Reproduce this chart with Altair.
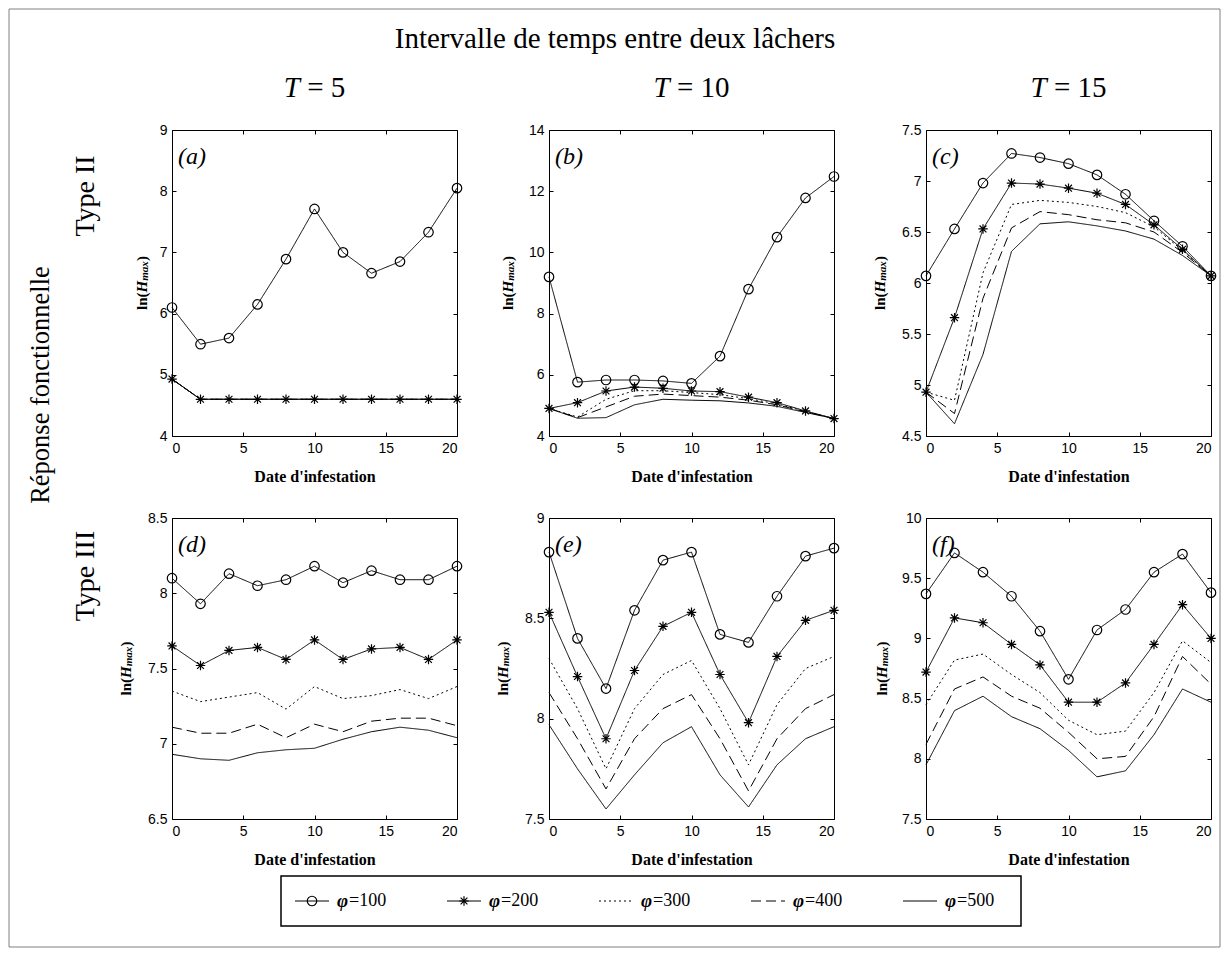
import altair as alt
import pandas as pd

# ---------------- data ----------------
DATES = [0, 2, 4, 6, 8, 10, 12, 14, 16, 18, 20]
PHI = ["100", "200", "300", "400", "500"]
PHI_LABELS = ["=100", "=200", "=300", "=400", "=500"]
X_TICKS = [0, 5, 10, 15, 20]

# (a) Type II, T = 5
A100 = [6.10, 5.50, 5.60, 6.15, 6.89, 7.71, 7.00, 6.66, 6.85, 7.33, 8.05]
A200 = [4.93, 4.60, 4.60, 4.60, 4.60, 4.60, 4.60, 4.60, 4.60, 4.60, 4.60]
A300 = [4.93, 4.60, 4.60, 4.60, 4.60, 4.60, 4.60, 4.60, 4.60, 4.60, 4.60]
A400 = [4.93, 4.60, 4.60, 4.60, 4.60, 4.60, 4.60, 4.60, 4.60, 4.60, 4.60]
A500 = [4.93, 4.60, 4.60, 4.60, 4.60, 4.60, 4.60, 4.60, 4.60, 4.60, 4.60]
# (b) Type II, T = 10
B100 = [9.20, 5.76, 5.83, 5.83, 5.80, 5.72, 6.61, 8.80, 10.50, 11.78, 12.48]
B200 = [4.90, 5.09, 5.47, 5.60, 5.56, 5.47, 5.45, 5.27, 5.09, 4.82, 4.57]
B300 = [4.90, 4.62, 5.20, 5.48, 5.48, 5.42, 5.35, 5.22, 5.05, 4.80, 4.57]
B400 = [4.90, 4.60, 4.95, 5.30, 5.37, 5.32, 5.27, 5.17, 5.02, 4.79, 4.57]
B500 = [4.90, 4.58, 4.60, 5.02, 5.20, 5.17, 5.15, 5.08, 4.97, 4.77, 4.57]
# (c) Type II, T = 15
C100 = [6.07, 6.53, 6.98, 7.27, 7.23, 7.17, 7.06, 6.87, 6.61, 6.36, 6.07]
C200 = [4.93, 5.66, 6.53, 6.98, 6.97, 6.93, 6.88, 6.77, 6.57, 6.33, 6.07]
C300 = [4.93, 4.85, 6.10, 6.77, 6.81, 6.79, 6.75, 6.69, 6.55, 6.32, 6.07]
C400 = [4.93, 4.72, 5.85, 6.54, 6.70, 6.67, 6.62, 6.59, 6.50, 6.30, 6.07]
C500 = [4.93, 4.62, 5.30, 6.31, 6.58, 6.60, 6.56, 6.51, 6.43, 6.27, 6.07]
# (d) Type III, T = 5
D100 = [8.10, 7.93, 8.13, 8.05, 8.09, 8.18, 8.07, 8.15, 8.09, 8.09, 8.18]
D200 = [7.65, 7.52, 7.62, 7.64, 7.56, 7.69, 7.56, 7.63, 7.64, 7.56, 7.69]
D300 = [7.35, 7.28, 7.31, 7.34, 7.23, 7.38, 7.30, 7.32, 7.36, 7.30, 7.38]
D400 = [7.11, 7.07, 7.07, 7.13, 7.04, 7.13, 7.08, 7.15, 7.17, 7.17, 7.12]
D500 = [6.93, 6.90, 6.89, 6.94, 6.96, 6.97, 7.03, 7.08, 7.11, 7.09, 7.04]
# (e) Type III, T = 10
E100 = [8.83, 8.40, 8.15, 8.54, 8.79, 8.83, 8.42, 8.38, 8.61, 8.81, 8.85]
E200 = [8.53, 8.21, 7.90, 8.24, 8.46, 8.53, 8.22, 7.98, 8.31, 8.49, 8.54]
E300 = [8.30, 8.05, 7.75, 8.05, 8.22, 8.29, 8.05, 7.77, 8.07, 8.25, 8.31]
E400 = [8.13, 7.90, 7.65, 7.90, 8.05, 8.12, 7.90, 7.64, 7.90, 8.05, 8.12]
E500 = [7.97, 7.75, 7.55, 7.72, 7.88, 7.96, 7.72, 7.56, 7.77, 7.90, 7.96]
# (f) Type III, T = 15
F100 = [9.37, 9.71, 9.55, 9.35, 9.06, 8.66, 9.07, 9.24, 9.55, 9.70, 9.38]
F200 = [8.72, 9.17, 9.13, 8.95, 8.78, 8.47, 8.47, 8.63, 8.95, 9.28, 9.00]
F300 = [8.45, 8.82, 8.87, 8.70, 8.55, 8.32, 8.20, 8.23, 8.55, 8.98, 8.80]
F400 = [8.12, 8.58, 8.68, 8.52, 8.42, 8.22, 8.00, 8.02, 8.35, 8.85, 8.62]
F500 = [7.95, 8.40, 8.52, 8.35, 8.25, 8.07, 7.85, 7.90, 8.20, 8.58, 8.47]

Y_DOMAINS = {
    "a": [4, 9], "b": [4, 14], "c": [4.5, 7.5],
    "d": [6.5, 8.5], "e": [7.5, 9], "f": [7.5, 10],
}
Y_TICKS = {
    "a": [4, 5, 6, 7, 8, 9],
    "b": [4, 6, 8, 10, 12, 14],
    "c": [4.5, 5, 5.5, 6, 6.5, 7, 7.5],
    "d": [6.5, 7, 7.5, 8, 8.5],
    "e": [7.5, 8, 8.5, 9],
    "f": [7.5, 8, 8.5, 9, 9.5, 10],
}
SERIES = {
    "a": [A100, A200, A300, A400, A500],
    "b": [B100, B200, B300, B400, B500],
    "c": [C100, C200, C300, C400, C500],
    "d": [D100, D200, D300, D400, D500],
    "e": [E100, E200, E300, E400, E500],
    "f": [F100, F200, F300, F400, F500],
}
COL_T = ["5", "10", "15"]

# ---------------- style ----------------
SERIF = "Liberation Serif"
SANS = "Liberation Sans"
STAR = "M-1,0L1,0M0,-1L0,1M-0.72,-0.72L0.72,0.72M-0.72,0.72L0.72,-0.72"
DASHES = [[1, 0], [1, 0], [2, 3], [10, 5], [1, 0]]
W = 285
H_TOP = 306
H_BOT = 301
YT_X = {"a": -30, "b": -41, "c": -46, "d": -46, "e": -46, "f": -44}
HEAD = 29


def txt(s, x, y, size, style="normal", weight="normal", align="center",
        baseline="middle", angle=0, font=SERIF, color="black"):
    return alt.Chart(pd.DataFrame({"t": [s]})).mark_text(
        font=font, fontSize=size, fontStyle=style, fontWeight=weight,
        align=align, baseline=baseline, angle=angle, color=color,
    ).encode(x=alt.value(x), y=alt.value(y), text="t:N")


def ytitle(xoff, h):
    c = h / 2
    w1, w2, w3, w4 = 17.5, 11.7, 19.6, 5.0
    start = c + (w1 + w2 + w3 + w4) / 2
    return [
        txt("ln(", xoff, start, 15, weight="bold", align="left", angle=270),
        txt("H", xoff, start - w1, 15, style="italic", weight="bold", align="left", angle=270),
        txt("max", xoff + 3, start - w1 - w2, 11, style="italic", weight="bold", align="left", angle=270),
        txt(")", xoff, start - w1 - w2 - w3, 15, weight="bold", align="left", angle=270),
    ]


def panel(key, h, extras):
    rows = []
    for phi, vals in zip(PHI, SERIES[key]):
        for d, v in zip(DATES, vals):
            rows.append({"date": d, "value": v, "phi": phi})
    df = pd.DataFrame(rows)
    xs = alt.Scale(domain=[0, 20], nice=False)
    ys = alt.Scale(domain=Y_DOMAINS[key], nice=False, zero=False)
    base = alt.Chart(df)
    lines = base.mark_line(color="black", strokeWidth=1).encode(
        x=alt.X("date:Q", scale=xs, axis=alt.Axis(
            orient="bottom", values=X_TICKS, ticks=False, domain=False,
            labelPadding=5, title="Date d'infestation", titlePadding=13)),
        y=alt.Y("value:Q", scale=ys, axis=alt.Axis(
            orient="left", values=Y_TICKS[key], format="~g", ticks=False,
            domain=False, labelPadding=5, title=None)),
        strokeDash=alt.StrokeDash("phi:N", scale=alt.Scale(domain=PHI, range=DASHES), legend=None),
    )
    marks = base.transform_filter(
        alt.FieldOneOfPredicate(field="phi", oneOf=["100", "200"])
    ).mark_point(color="black", filled=False, strokeWidth=1.2, opacity=1, size=90).encode(
        x=alt.X("date:Q", scale=xs, axis=alt.Axis(
            orient="bottom", offset=-4, values=X_TICKS, labels=False,
            domain=False, tickSize=4, title=None)),
        y=alt.Y("value:Q", scale=ys, axis=alt.Axis(
            orient="left", offset=-4, values=Y_TICKS[key], labels=False,
            domain=False, tickSize=4, title=None)),
        shape=alt.Shape("phi:N", scale=alt.Scale(domain=["100", "200"], range=["circle", STAR]), legend=None),
    )
    ghost = base.mark_point(opacity=0).encode(
        x=alt.X("date:Q", scale=xs, axis=alt.Axis(
            orient="top", offset=-4, values=X_TICKS, labels=False,
            domain=False, tickSize=4, title=None)),
        y=alt.Y("value:Q", scale=ys, axis=alt.Axis(
            orient="right", offset=-4, values=Y_TICKS[key], labels=False,
            domain=False, tickSize=4, title=None)),
    )
    letter = txt("(" + key + ")", 6, 27, 24, style="italic", align="left")
    layers = [lines, marks, ghost, letter] + ytitle(YT_X[key], h) + extras
    return alt.layer(*layers).resolve_axis(
        x="independent", y="independent"
    ).resolve_scale(x="independent").properties(width=W, height=h)


def header(tval):
    k = HEAD / 26.0
    rest = "= " + tval
    rest_w = (14.7 + 6.5 + 13.0 * len(tval)) * k
    t_w = 14.5 * k
    gap = 6.5 * k
    total = t_w + gap + rest_w
    start = W / 2 - total / 2
    return [
        txt("T", start + t_w, -42, HEAD, style="italic", align="right"),
        txt(rest, start + t_w + gap, -42, HEAD, align="left"),
    ]


# ---------------- legend (drawn under panel e, own x scale) ----------------
LEG_W = 740
LEG_LEFT = -268          # legend box left edge, relative to panel (e)
LEG_TOP = 358            # legend box top, relative to panel (e)
LEG_H = 50
PITCH = 152
leg_df = pd.DataFrame({"phi": PHI, "idx": [0, 1, 2, 3, 4], "label": PHI_LABELS})
box_df = pd.DataFrame({"b0": [0], "b1": [LEG_W]})
lx = alt.Scale(domain=[-LEG_LEFT, -LEG_LEFT + W], nice=False, zero=False)
ly = LEG_TOP + LEG_H / 2
lb = alt.Chart(leg_df).transform_calculate(
    x0=f"14 + datum.idx * {PITCH}",
    x1="datum.x0 + 34",
    xm="datum.x0 + 17",
    xt="datum.x0 + 42",
    xe="datum.x0 + 54",
)
lbox = alt.Chart(box_df).mark_rect(fillOpacity=0, stroke="black", strokeWidth=1.5).encode(
    x=alt.X("b0:Q", scale=lx, axis=None), x2="b1:Q",
    y=alt.value(LEG_TOP), y2=alt.value(LEG_TOP + LEG_H),
)
lseg = lb.mark_rule(color="black", strokeWidth=1).encode(
    x=alt.X("x0:Q", scale=lx, axis=None), x2="x1:Q", y=alt.value(ly),
    strokeDash=alt.StrokeDash("phi:N", scale=alt.Scale(domain=PHI, range=DASHES), legend=None),
)
lmk = lb.transform_filter(
    alt.FieldOneOfPredicate(field="phi", oneOf=["100", "200"])
).mark_point(color="black", filled=False, strokeWidth=1.2, opacity=1, size=90).encode(
    x=alt.X("xm:Q", scale=lx, axis=None), y=alt.value(ly),
    shape=alt.Shape("phi:N", scale=alt.Scale(domain=["100", "200"], range=["circle", STAR]), legend=None),
)
lphi = lb.mark_text(font=SERIF, fontSize=19, fontStyle="italic", fontWeight="bold",
                    align="left", baseline="middle", color="black", text="φ").encode(
    x=alt.X("xt:Q", scale=lx, axis=None), y=alt.value(ly),
)
llab = lb.mark_text(font=SERIF, fontSize=18, align="left", baseline="middle", color="black").encode(
    x=alt.X("xe:Q", scale=lx, axis=None), y=alt.value(ly), text="label:N",
)

frame = alt.Chart(pd.DataFrame({"t": [0]})).mark_rect(
    fillOpacity=0, stroke="#808080", strokeWidth=1
).encode(x=alt.value(-163), x2=alt.value(1048), y=alt.value(-121), y2=alt.value(817))

extras_a = [frame,
            txt("Intervalle de temps entre deux lâchers", 443, -91, 29),
            txt("Type II", -86, 66, 28, angle=270),
            txt("Réponse fonctionnelle", -131, 255, 26.5, angle=270)] + header(COL_T[0])
extras_b = header(COL_T[1])
extras_c = header(COL_T[2])
extras_d = [txt("Type III", -86, 58, 28, angle=270)]
extras_e = [lbox, lseg, lmk, lphi, llab]

pa = panel("a", H_TOP, extras_a)
pb = panel("b", H_TOP, extras_b)
pc = panel("c", H_TOP, extras_c)
pd_ = panel("d", H_BOT, extras_d)
pe = panel("e", H_BOT, extras_e)
pf = panel("f", H_BOT, [])

chart = alt.concat(
    pa, pb, pc, pd_, pe, pf, columns=3,
    spacing={"row": 82, "column": 92}, bounds="flush",
).properties(
    padding=0, background="white"
).configure_view(stroke="black", strokeWidth=1).configure_axis(
    labelFont=SANS, labelFontSize=14, labelColor="black",
    titleFont=SERIF, titleFontSize=16, titleFontWeight="bold", titleColor="black",
    tickColor="black", tickWidth=1, grid=False,
)

chart.save("out.html", embed_options={"renderer": "svg", "actions": False})
